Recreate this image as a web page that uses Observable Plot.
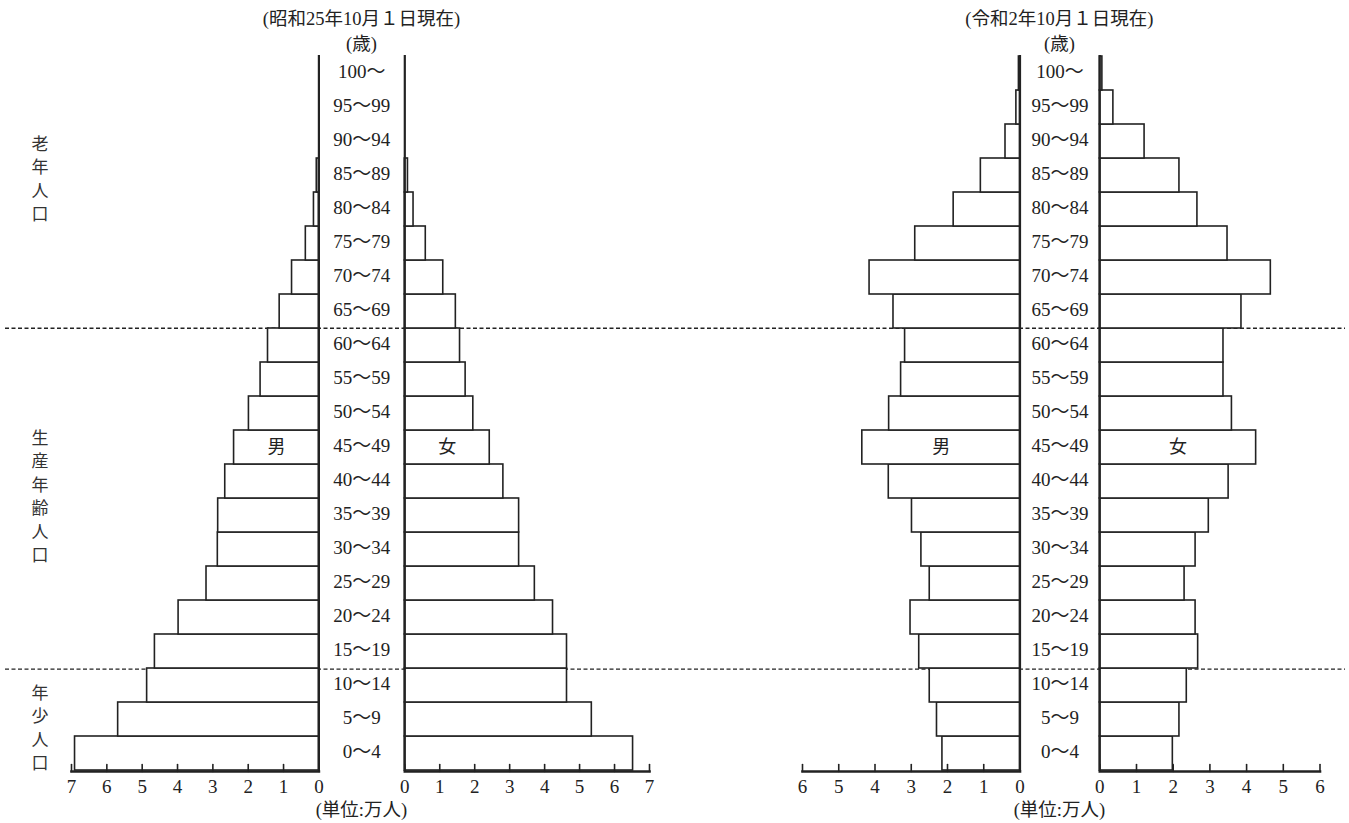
<!DOCTYPE html>
<html><head><meta charset="utf-8">
<script src="https://cdn.jsdelivr.net/npm/d3@7"></script>
<script src="https://cdn.jsdelivr.net/npm/@observablehq/plot@0.6"></script>
<style>
body{margin:0;background:#fff;}
#wrap{position:relative;width:1349px;height:823px;overflow:hidden;font-family:'Liberation Serif','Noto Sans CJK JP',serif;color:#222;}
.layer{position:absolute;left:0;top:0;width:1349px;height:823px;}
.side{position:absolute;font-size:17px;line-height:23.4px;text-align:center;width:30px;font-family:'Noto Sans CJK JP',sans-serif;color:#333;}
.ttl{position:absolute;font-size:18.5px;white-space:nowrap;transform:translate(-50%,-50%);}
</style></head><body><div id="wrap"></div>
<script>
// ---- data ----
const ages = ["0〜4","5〜9","10〜14","15〜19","20〜24","25〜29","30〜34","35〜39","40〜44","45〜49","50〜54","55〜59","60〜64","65〜69","70〜74","75〜79","80〜84","85〜89","90〜94","95〜99","100〜"];
const male1950   = [6.90, 5.68, 4.86, 4.64, 3.97, 3.18, 2.86, 2.85, 2.65, 2.40, 1.98, 1.65, 1.44, 1.11, 0.76, 0.37, 0.14, 0.06, 0, 0, 0];
const female1950 = [6.53, 5.35, 4.64, 4.64, 4.24, 3.72, 3.27, 3.27, 2.82, 2.43, 1.96, 1.74, 1.58, 1.46, 1.10, 0.60, 0.25, 0.09, 0, 0, 0];
const male2020   = [2.14, 2.29, 2.49, 2.78, 3.02, 2.49, 2.72, 2.98, 3.62, 4.35, 3.61, 3.28, 3.17, 3.49, 4.15, 2.89, 1.83, 1.08, 0.40, 0.10, 0.03];
const female2020 = [1.99, 2.17, 2.37, 2.68, 2.61, 2.31, 2.61, 2.97, 3.51, 4.26, 3.60, 3.37, 3.37, 3.86, 4.66, 3.48, 2.66, 2.17, 1.22, 0.37, 0.07];
const ticks1950 = [0, 1, 2, 3, 4, 5, 6, 7];
const ticks2020 = [0, 1, 2, 3, 4, 5, 6];
const boundaryAges = ["15〜19", "65〜69"];
const groupNames = ["老年人口", "生産年齢人口", "年少人口"];
const sexNames = ["男", "女"];
const labelAge = "45〜49";
const titles = ["(昭和25年10月１日現在)", "(令和2年10月１日現在)"];
const ageUnit = "(歳)";
const unitLabel = "(単位:万人)";

// ---- layout ----
const W = 1349, H = 823, MT = 55, MB = 52;
const FONT = "'Liberation Serif','Noto Sans CJK JP',serif";
const INK = "#222";
const wrap = document.getElementById("wrap");
const baseStyle = {background: "transparent", overflow: "visible", fontFamily: FONT, fontSize: "19px", color: INK};
const yBand = {type: "band", domain: ages.slice().reverse(), padding: 0, axis: null, label: null};
const tickLine = {draw(context, l) { context.moveTo(0, 0); context.lineTo(0, -l); }};

function add(node) { node.classList.add("layer"); wrap.appendChild(node); }

// background: dashed group boundaries across the whole width
add(Plot.plot({
  width: W, height: H, marginTop: MT, marginBottom: MB, marginLeft: 5, marginRight: 4,
  style: baseStyle,
  y: {domain: [0, ages.length], axis: null, label: null},
  marks: [
    Plot.ruleY(boundaryAges.map(a => ages.indexOf(a)), {stroke: INK, strokeWidth: 1.3, strokeDasharray: "4,2.5"})
  ]
}));

function half(values, ticks, zeroX, endX, sex) {
  const rows = ages.map((age, i) => ({age, v: values[i]}));
  const reverse = endX < zeroX;
  const x0 = Math.min(zeroX, endX), x1 = Math.max(zeroX, endX);
  add(Plot.plot({
    width: W, height: H, marginTop: MT, marginBottom: MB, marginLeft: x0, marginRight: W - x1,
    style: baseStyle,
    x: {domain: [0, ticks[ticks.length - 1]], reverse, axis: null, label: null},
    y: yBand,
    marks: [
      Plot.barX(rows, {x: "v", y: "age", fill: "white", stroke: INK, strokeWidth: 1.6}),
      Plot.ruleX([0], {stroke: INK, strokeWidth: 2.2}),
      Plot.frame({anchor: "bottom", stroke: INK, strokeWidth: 2.6}),
      Plot.vector(ticks, {x: d => d, frameAnchor: "bottom", length: 7, anchor: "start", shape: tickLine, stroke: INK, strokeWidth: 1.6}),
      Plot.axisX(ticks, {tickSize: 0, tickPadding: 8, tickFormat: d => String(d), fill: INK, fontSize: 19, label: null}),
      Plot.text(rows.filter(d => d.age === labelAge), {x: d => d.v / 2, y: "age", text: () => sex, fontSize: 18, fill: INK, fontFamily: "'Noto Sans CJK JP',sans-serif"})
    ]
  }));
}

function center(zeroM, zeroF, cx, title) {
  add(Plot.plot({
    width: W, height: H, marginTop: MT, marginBottom: MB, marginLeft: zeroM, marginRight: W - zeroF,
    style: baseStyle,
    y: yBand,
    marks: [
      Plot.text(ages, {y: d => d, text: d => d, frameAnchor: "middle", dy: -2, fill: INK, fontSize: 19})
    ]
  }));
  const t = document.createElement("div"); t.className = "ttl"; t.style.left = cx + "px"; t.style.top = "17px"; t.textContent = title; wrap.appendChild(t);
  const a = document.createElement("div"); a.className = "ttl"; a.style.left = cx + "px"; a.style.top = "42px"; a.textContent = ageUnit; wrap.appendChild(a);
  const u = document.createElement("div"); u.className = "ttl"; u.style.left = cx + "px"; u.style.top = "808px"; u.textContent = unitLabel; wrap.appendChild(u);
}

// 1950 pyramid
half(male1950, ticks1950, 318.4, 71, sexNames[0]);
half(female1950, ticks1950, 404.3, 649, sexNames[1]);
center(318.4, 404.3, 361.4, titles[0]);
// 2020 pyramid
half(male2020, ticks2020, 1019.5, 802, sexNames[0]);
half(female2020, ticks2020, 1099.3, 1319.5, sexNames[1]);
center(1019.5, 1099.3, 1059.4, titles[1]);

// side group labels
const sideTops = [131, 425, 680];
groupNames.forEach((g, i) => {
  const d = document.createElement("div"); d.className = "side";
  d.style.left = "25px"; d.style.top = sideTops[i] + "px";
  d.innerHTML = Array.from(g).join("<br>");
  wrap.appendChild(d);
});
</script></body></html>
